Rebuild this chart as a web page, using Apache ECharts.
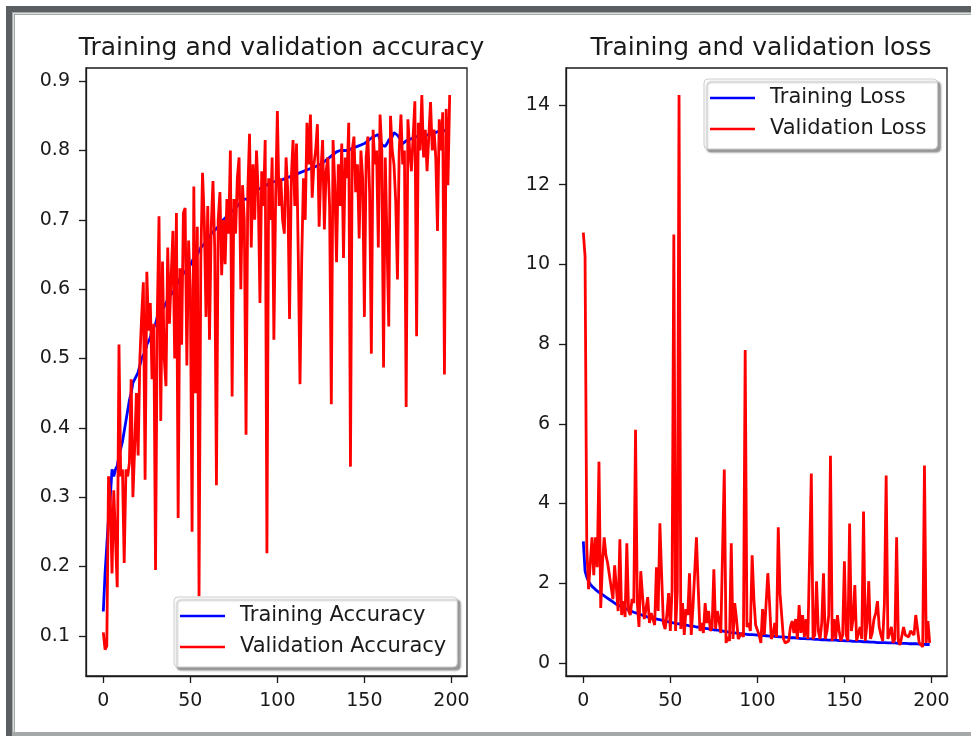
<!DOCTYPE html>
<html>
<head>
<meta charset="utf-8">
<title>Training and validation</title>
<script src="https://cdn.jsdelivr.net/npm/echarts/dist/echarts.min.js"></script>
<style>
  html, body { margin: 0; padding: 0; background: #fff; }
  #chart { width: 971px; height: 736px; }
</style>
</head>
<body>
<div id="chart"></div>
<script>
// epochs 0..199
const trainAcc = [
  0.135, 0.19, 0.23, 0.27, 0.30, 0.34, 0.33, 0.34, 0.345, 0.36,
  0.36, 0.38, 0.395, 0.41, 0.425, 0.44, 0.45, 0.465, 0.47, 0.475,
  0.48, 0.49, 0.50, 0.505, 0.51, 0.52, 0.525, 0.53, 0.54, 0.545,
  0.55, 0.56, 0.56, 0.565, 0.57, 0.575, 0.58, 0.585, 0.59, 0.59,
  0.595, 0.60, 0.605, 0.61, 0.615, 0.62, 0.62, 0.625, 0.63, 0.63,
  0.635, 0.64, 0.645, 0.645, 0.65, 0.655, 0.66, 0.66, 0.665, 0.67,
  0.67, 0.675, 0.68, 0.68, 0.685, 0.685, 0.69, 0.695, 0.695, 0.70,
  0.70, 0.705, 0.705, 0.71, 0.71, 0.715, 0.715, 0.72, 0.72, 0.725,
  0.725, 0.73, 0.73, 0.73, 0.735, 0.735, 0.74, 0.74, 0.74, 0.745,
  0.745, 0.745, 0.75, 0.75, 0.75, 0.752, 0.755, 0.755, 0.755, 0.755,
  0.755, 0.756, 0.757, 0.758, 0.759, 0.76, 0.761, 0.762, 0.763, 0.764,
  0.765, 0.766, 0.767, 0.768, 0.769, 0.77, 0.771, 0.772, 0.773, 0.774,
  0.775, 0.776, 0.777, 0.778, 0.779, 0.78, 0.782, 0.784, 0.786, 0.788,
  0.79, 0.792, 0.794, 0.796, 0.798, 0.80, 0.80, 0.80, 0.80, 0.80,
  0.80, 0.801, 0.802, 0.803, 0.804, 0.805, 0.806, 0.807, 0.808, 0.809,
  0.81, 0.812, 0.814, 0.816, 0.818, 0.82, 0.821, 0.822, 0.823, 0.815,
  0.808, 0.806, 0.806, 0.81, 0.815, 0.815, 0.82, 0.826, 0.825, 0.822,
  0.82, 0.815, 0.81, 0.812, 0.814, 0.815, 0.816, 0.817, 0.818, 0.819,
  0.82, 0.82, 0.82, 0.821, 0.821, 0.82, 0.822, 0.823, 0.824, 0.824,
  0.825, 0.826, 0.827, 0.828, 0.829, 0.83, 0.829, 0.828, 0.826, 0.825
];
const valAcc = [
  0.105, 0.08, 0.085, 0.33, 0.30, 0.19, 0.31, 0.31, 0.17, 0.52,
  0.33, 0.34, 0.205, 0.34, 0.33, 0.35, 0.47, 0.30, 0.37, 0.45,
  0.36, 0.50, 0.56, 0.61, 0.325, 0.625, 0.54, 0.58, 0.47, 0.55,
  0.195, 0.56, 0.705, 0.41, 0.64, 0.50, 0.46, 0.66, 0.55, 0.62,
  0.684, 0.50, 0.71, 0.27, 0.63, 0.52, 0.71, 0.717, 0.49, 0.67,
  0.60, 0.25, 0.748, 0.45, 0.69, 0.157, 0.64, 0.768, 0.70, 0.56,
  0.72, 0.527, 0.69, 0.756, 0.66, 0.317, 0.70, 0.74, 0.62, 0.70,
  0.636, 0.73, 0.68, 0.80, 0.445, 0.73, 0.68, 0.76, 0.79, 0.60,
  0.75, 0.70, 0.39, 0.74, 0.824, 0.66, 0.78, 0.70, 0.80, 0.74,
  0.58, 0.77, 0.72, 0.815, 0.219, 0.76, 0.70, 0.79, 0.527, 0.73,
  0.857, 0.72, 0.76, 0.70, 0.68, 0.79, 0.74, 0.557, 0.76, 0.815,
  0.72, 0.81, 0.65, 0.463, 0.645, 0.76, 0.70, 0.84, 0.78, 0.852,
  0.732, 0.78, 0.80, 0.838, 0.69, 0.77, 0.815, 0.686, 0.77, 0.79,
  0.72, 0.434, 0.815, 0.75, 0.639, 0.78, 0.72, 0.81, 0.645, 0.79,
  0.76, 0.84, 0.344, 0.80, 0.82, 0.74, 0.78, 0.673, 0.80, 0.76,
  0.56, 0.79, 0.82, 0.74, 0.507, 0.83, 0.78, 0.80, 0.66, 0.852,
  0.80, 0.487, 0.79, 0.79, 0.546, 0.85, 0.80, 0.78, 0.726, 0.614,
  0.80, 0.852, 0.78, 0.80, 0.43, 0.845, 0.80, 0.77, 0.82, 0.871,
  0.532, 0.84, 0.80, 0.88, 0.79, 0.83, 0.77, 0.82, 0.87, 0.80,
  0.83, 0.79, 0.684, 0.845, 0.80, 0.855, 0.477, 0.86, 0.75, 0.88
];
const trainLoss = [
  3.05, 2.3, 2.15, 2.05, 1.98, 1.92, 1.88, 1.84, 1.80, 1.77,
  1.74, 1.71, 1.68, 1.65, 1.62, 1.59, 1.56, 1.53, 1.50, 1.47,
  1.45, 1.43, 1.41, 1.39, 1.37, 1.35, 1.33, 1.31, 1.29, 1.27,
  1.25, 1.24, 1.22, 1.21, 1.19, 1.18, 1.17, 1.15, 1.14, 1.13,
  1.12, 1.11, 1.10, 1.09, 1.08, 1.07, 1.06, 1.05, 1.04, 1.03,
  1.02, 1.01, 1.00, 0.99, 0.98, 0.98, 0.97, 0.96, 0.95, 0.95,
  0.94, 0.93, 0.92, 0.92, 0.91, 0.90, 0.89, 0.89, 0.88, 0.87,
  0.87, 0.86, 0.85, 0.85, 0.84, 0.83, 0.83, 0.82, 0.81, 0.81,
  0.80, 0.79, 0.79, 0.78, 0.77, 0.76, 0.76, 0.75, 0.75, 0.74,
  0.74, 0.73, 0.73, 0.72, 0.72, 0.71, 0.71, 0.71, 0.70, 0.70,
  0.70, 0.69, 0.69, 0.69, 0.68, 0.68, 0.68, 0.67, 0.67, 0.67,
  0.66, 0.66, 0.66, 0.65, 0.65, 0.65, 0.64, 0.64, 0.64, 0.63,
  0.63, 0.63, 0.62, 0.62, 0.62, 0.61, 0.61, 0.61, 0.60, 0.60,
  0.60, 0.60, 0.59, 0.59, 0.59, 0.59, 0.58, 0.58, 0.58, 0.58,
  0.58, 0.57, 0.57, 0.57, 0.57, 0.57, 0.56, 0.56, 0.56, 0.56,
  0.56, 0.55, 0.55, 0.55, 0.55, 0.54, 0.54, 0.54, 0.55, 0.54,
  0.53, 0.53, 0.53, 0.53, 0.52, 0.52, 0.52, 0.52, 0.52, 0.51,
  0.51, 0.51, 0.51, 0.51, 0.50, 0.50, 0.50, 0.50, 0.50, 0.50,
  0.49, 0.49, 0.49, 0.49, 0.49, 0.49, 0.48, 0.48, 0.48, 0.48,
  0.48, 0.48, 0.47, 0.47, 0.47, 0.47, 0.47, 0.46, 0.46, 0.46
];
const valLoss = [
  10.8, 10.2, 2.9, 1.85, 1.8, 3.15, 2.2, 3.15, 2.4, 5.05,
  1.38, 2.5, 3.15, 2.7, 2.5, 2.2, 1.9, 1.6, 2.45, 2.4,
  1.3, 3.1, 1.2, 1.55, 1.15, 3.0, 1.3, 1.2, 1.6, 1.5,
  5.85, 1.5, 0.9, 2.3, 1.7, 1.1, 1.35, 1.65, 1.0, 1.25,
  1.1, 0.95, 2.4, 1.3, 3.5, 2.2, 1.0, 0.85, 1.2, 1.75,
  0.8, 1.85, 10.75, 0.8, 1.8, 14.25, 0.85, 1.5, 0.7, 1.35,
  1.2, 2.25, 0.7, 1.4, 1.35, 3.15, 1.9, 0.8, 1.0, 0.75,
  1.5, 1.0, 1.3, 0.8, 0.9, 2.35, 0.85, 1.3, 1.05, 0.75,
  0.7, 4.85, 0.5, 0.65, 0.55, 3.0, 0.6, 1.5, 1.1, 0.6,
  0.6, 0.75, 0.65, 7.85, 0.9, 1.0, 0.8, 2.7, 1.6, 0.95,
  0.9, 0.7, 0.5, 1.35, 0.7, 0.65, 2.25, 1.5, 0.6, 0.7,
  1.0, 0.65, 3.4, 1.75, 1.75, 0.6, 0.5, 0.5, 0.55, 0.9,
  1.05, 0.75, 1.1, 0.6, 1.45, 0.75, 1.2, 0.65, 1.1, 0.6,
  0.65, 4.75, 0.6, 0.7, 2.05, 0.8, 0.6, 1.0, 2.25, 0.6,
  0.8, 1.2, 5.2, 0.55, 1.1, 0.6, 1.2, 0.8, 0.55, 0.7,
  2.55, 0.7, 0.55, 3.5, 0.8, 1.1, 1.95, 0.55, 0.6, 0.9,
  0.6, 3.8, 0.55, 1.0, 2.05, 0.6, 0.75, 1.1, 1.25, 1.55,
  0.9, 0.7, 0.55, 1.5, 4.7, 0.6, 0.55, 0.9, 0.5, 0.6,
  3.15, 0.55, 0.45, 0.5, 0.9, 0.7, 0.75, 0.65, 0.8, 0.75,
  0.7, 1.2, 1.2, 0.5, 0.55, 0.4, 4.95, 0.5, 1.05, 0.5
];
const epochTicks = [0, 50, 100, 150, 200];
const accTicks = [0.1, 0.2, 0.3, 0.4, 0.5, 0.6, 0.7, 0.8, 0.9];
const lossTicks = [0, 2, 4, 6, 8, 10, 12, 14];

const ink = '#1a1a1a';
const font = 'DejaVu Sans';

function pairs(arr) {
  return arr.map((v, i) => [i, v]);
}

function xAxisFor(idx) {
  return {
    type: 'value',
    gridIndex: idx,
    min: -9.95,
    max: 208.95,
    axisLine: { show: true, onZero: false, lineStyle: { color: ink, width: 1.3 } },
    axisTick: { show: true, length: 7, customValues: epochTicks, lineStyle: { color: ink, width: 1.3 } },
    axisLabel: { customValues: epochTicks, fontSize: 19, color: ink, fontFamily: font, margin: 16 },
    splitLine: { show: false }
  };
}

function yAxisFor(idx, min, max, ticks, fmt) {
  return {
    type: 'value',
    gridIndex: idx,
    min: min,
    max: max,
    axisLine: { show: true, onZero: false, lineStyle: { color: ink, width: 1.3 } },
    axisTick: { show: true, length: 7, customValues: ticks, lineStyle: { color: ink, width: 1.3 } },
    axisLabel: { customValues: ticks, fontSize: 19, color: ink, fontFamily: font, margin: 16, formatter: fmt },
    splitLine: { show: false }
  };
}

function legendAt(left, top, names) {
  return {
    orient: 'vertical',
    left: left,
    top: top,
    data: names,
    icon: 'rect',
    itemWidth: 45,
    itemHeight: 2.5,
    itemGap: 9,
    padding: [8, 11, 9, 6],
    backgroundColor: '#fff',
    borderColor: '#cccccc',
    borderWidth: 1,
    borderRadius: 4,
    shadowColor: 'rgba(0,0,0,0.4)',
    shadowBlur: 2,
    shadowOffsetX: 3,
    shadowOffsetY: 3,
    selectedMode: false,
    textStyle: { fontSize: 21, lineHeight: 22, color: ink, fontFamily: font, padding: [0, 0, 0, 10] }
  };
}

const chart = echarts.init(document.getElementById('chart'));
const option = {
  animation: false,
  backgroundColor: '#fff',
  textStyle: { fontFamily: font },
  title: [{
    text: 'Training and validation accuracy',
    left: 276.5,
    top: 31,
    textAlign: 'center',
    textStyle: { fontSize: 25, fontWeight: 'normal', color: ink, fontFamily: font }
  }, {
    text: 'Training and validation loss',
    left: 756,
    top: 31,
    textAlign: 'center',
    textStyle: { fontSize: 25, fontWeight: 'normal', color: ink, fontFamily: font }
  }],
  legend: [
    legendAt(174, 597, ['Training Accuracy', 'Validation Accuracy']),
    legendAt(704, 79, ['Training Loss', 'Validation Loss'])
  ],
  grid: [
    { left: 86, top: 68, width: 381, height: 608, show: true, borderColor: ink, borderWidth: 1.3, backgroundColor: '#fff' },
    { left: 566, top: 68, width: 381, height: 608, show: true, borderColor: ink, borderWidth: 1.3, backgroundColor: '#fff' }
  ],
  xAxis: [xAxisFor(0), xAxisFor(1)],
  yAxis: [
    yAxisFor(0, 0.042, 0.919, accTicks, v => v.toFixed(1)),
    yAxisFor(1, -0.33, 14.93, lossTicks, v => String(v))
  ],
  graphic: [
    { type: 'rect', shape: { x: 6, y: 6, width: 965, height: 6 }, style: { fill: '#5b5f61' }, silent: true },
    { type: 'rect', shape: { x: 6, y: 6, width: 6, height: 730 }, style: { fill: '#5b5f61' }, silent: true },
    { type: 'rect', shape: { x: 12, y: 12, width: 959, height: 3 }, style: { fill: '#a7abab' }, silent: true },
    { type: 'rect', shape: { x: 12, y: 12, width: 3, height: 720 }, style: { fill: '#a7abab' }, silent: true },
    { type: 'rect', shape: { x: 13, y: 13, width: 958, height: 1 }, style: { fill: '#d9dbdb' }, silent: true },
    { type: 'rect', shape: { x: 13, y: 13, width: 1, height: 719 }, style: { fill: '#d9dbdb' }, silent: true },
    { type: 'rect', shape: { x: 12, y: 732, width: 959, height: 4 }, style: { fill: '#a4a8a8' }, silent: true }
  ],
  series: [
    { name: 'Training Accuracy', type: 'line', xAxisIndex: 0, yAxisIndex: 0, data: pairs(trainAcc),
      symbol: 'none', showSymbol: false, color: '#0000ff', lineStyle: { width: 2.8, color: '#0000ff' } },
    { name: 'Validation Accuracy', type: 'line', xAxisIndex: 0, yAxisIndex: 0, data: pairs(valAcc),
      symbol: 'none', showSymbol: false, color: '#ff0000', lineStyle: { width: 2.8, color: '#ff0000' } },
    { name: 'Training Loss', type: 'line', xAxisIndex: 1, yAxisIndex: 1, data: pairs(trainLoss),
      symbol: 'none', showSymbol: false, color: '#0000ff', lineStyle: { width: 2.8, color: '#0000ff' } },
    { name: 'Validation Loss', type: 'line', xAxisIndex: 1, yAxisIndex: 1, data: pairs(valLoss),
      symbol: 'none', showSymbol: false, color: '#ff0000', lineStyle: { width: 2.8, color: '#ff0000' } }
  ]
};
chart.setOption(option);
</script>
</body>
</html>
